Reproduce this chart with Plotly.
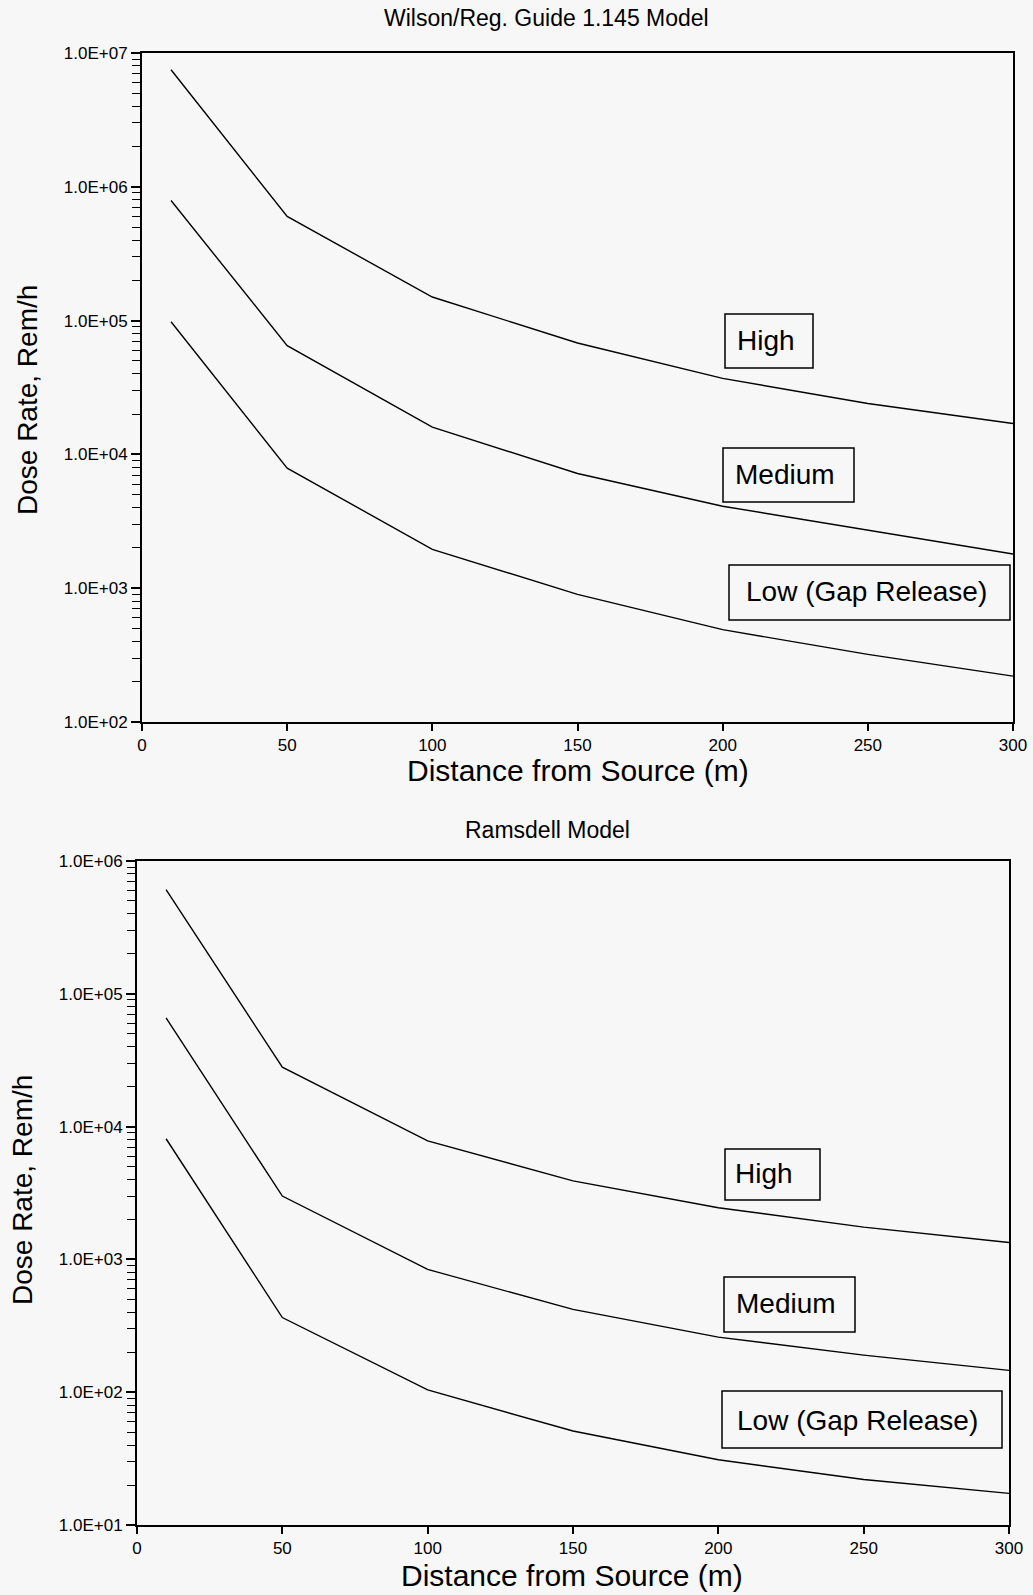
import plotly.graph_objects as go

# ---------------- data ----------------
distance = [10, 50, 100, 150, 200, 250, 300]

wilson_high = [7.5e6, 6.0e5, 1.5e5, 6.8e4, 3.7e4, 2.4e4, 1.7e4]
wilson_medium = [7.9e5, 6.5e4, 1.6e4, 7.2e3, 4.1e3, 2.7e3, 1.8e3]
wilson_low = [9.8e4, 7.9e3, 1.95e3, 9.0e2, 4.9e2, 3.2e2, 2.2e2]

ramsdell_high = [6.1e5, 2.8e4, 7.8e3, 3.9e3, 2.45e3, 1.75e3, 1.34e3]
ramsdell_medium = [6.6e4, 3.0e3, 8.4e2, 4.2e2, 2.6e2, 1.9e2, 1.46e2]
ramsdell_low = [8.1e3, 3.65e2, 1.04e2, 5.1e1, 3.1e1, 2.2e1, 1.73e1]

series_names = ["High", "Medium", "Low (Gap Release)"]

x_tickvals = [0, 50, 100, 150, 200, 250, 300]
x_ticktext = ["0", "50", "100", "150", "200", "250", "300"]

top_y_tickvals = [1e2, 1e3, 1e4, 1e5, 1e6, 1e7]
top_y_ticktext = ["1.0E+02", "1.0E+03", "1.0E+04", "1.0E+05", "1.0E+06", "1.0E+07"]
bot_y_tickvals = [1e1, 1e2, 1e3, 1e4, 1e5, 1e6]
bot_y_ticktext = ["1.0E+01", "1.0E+02", "1.0E+03", "1.0E+04", "1.0E+05", "1.0E+06"]

top_title = "Wilson/Reg. Guide 1.145 Model"
bot_title = "Ramsdell Model"
x_title = "Distance from Source (m)"
y_title = "Dose Rate, Rem/h"

# ---------------- layout helpers ----------------
W, H = 1033, 1595
BG = "#f7f7f7"
FONT = "Liberation Sans, Arial, Helvetica, sans-serif"


def px(x):
    return x / W


def py(y):
    return 1 - y / H


def minor_vals(lo, hi):
    vals = []
    for e in range(lo, hi):
        for k in range(2, 10):
            vals.append(k * 10 ** e)
    return vals


fig = go.Figure()

for ys, name in zip([wilson_high, wilson_medium, wilson_low], series_names):
    fig.add_trace(go.Scatter(x=distance, y=ys, mode="lines", name=name,
                             line=dict(color="black", width=1.4),
                             xaxis="x", yaxis="y", showlegend=False))
for ys, name in zip([ramsdell_high, ramsdell_medium, ramsdell_low], series_names):
    fig.add_trace(go.Scatter(x=distance, y=ys, mode="lines", name=name,
                             line=dict(color="black", width=1.4),
                             xaxis="x2", yaxis="y2", showlegend=False))

xaxis_common = dict(range=[0, 300], tickmode="array", tickvals=x_tickvals,
                    ticktext=x_ticktext, ticks="outside", ticklen=7,
                    tickwidth=1.5, tickcolor="black", showline=True,
                    linecolor="black", linewidth=2, mirror=True,
                    showgrid=False, zeroline=False, automargin=False,
                    tickfont=dict(family=FONT, size=17, color="black"))
yaxis_common = dict(type="log", tickmode="array", ticks="outside", ticklen=9,
                    tickwidth=1.5, tickcolor="black", showline=True,
                    linecolor="black", linewidth=2, mirror=True,
                    showgrid=False, zeroline=False, automargin=False,
                    tickfont=dict(family=FONT, size=17, color="black"))

fig.update_layout(
    width=W, height=H,
    margin=dict(l=0, r=0, t=0, b=0),
    paper_bgcolor=BG, plot_bgcolor=BG,
    showlegend=False,
    xaxis=dict(xaxis_common, domain=[px(142), px(1013)], anchor="y"),
    yaxis=dict(yaxis_common, domain=[py(722), py(53)], anchor="x",
               range=[2, 7], tickvals=top_y_tickvals, ticktext=top_y_ticktext,
               minor=dict(tickmode="array", tickvals=minor_vals(2, 7),
                          ticks="outside", ticklen=8, tickwidth=1.2,
                          tickcolor="black", showgrid=False)),
    xaxis2=dict(xaxis_common, domain=[px(137), px(1009)], anchor="y2"),
    yaxis2=dict(yaxis_common, domain=[py(1525), py(861)], anchor="x2",
                range=[1, 6], tickvals=bot_y_tickvals, ticktext=bot_y_ticktext,
                minor=dict(tickmode="array", tickvals=minor_vals(1, 6),
                           ticks="outside", ticklen=8, tickwidth=1.2,
                           tickcolor="black", showgrid=False)),
)

annotations = []
# titles
annotations.append(dict(text=top_title, x=px(546), y=py(18), xref="paper", yref="paper",
                        showarrow=False, xanchor="center", yanchor="middle",
                        font=dict(family=FONT, size=23, color="black")))
annotations.append(dict(text=bot_title, x=px(547), y=py(830), xref="paper", yref="paper",
                        showarrow=False, xanchor="center", yanchor="middle",
                        font=dict(family=FONT, size=23, color="black")))
# axis titles
for cx, cy in [(578, 770), (572, 1575)]:
    annotations.append(dict(text=x_title, x=px(cx), y=py(cy), xref="paper", yref="paper",
                            showarrow=False, xanchor="center", yanchor="middle",
                            font=dict(family=FONT, size=30, color="black")))
for cx, cy in [(28, 400), (22, 1190)]:
    annotations.append(dict(text=y_title, x=px(cx), y=py(cy), xref="paper", yref="paper",
                            showarrow=False, xanchor="center", yanchor="middle",
                            textangle=-90,
                            font=dict(family=FONT, size=28, color="black")))

# label boxes: (x0, y0, x1, y1, text_cx, text_cy) in pixels
label_boxes = [
    (725, 314, 813, 368, 766, 340),
    (723, 448, 854, 502, 785, 474),
    (729, 565, 1010, 620, 866, 591),
    (725, 1149, 820, 1200, 764, 1173),
    (724, 1277, 855, 1332, 786, 1303),
    (722, 1391, 1002, 1448, 857, 1420),
]
label_texts = series_names + series_names

shapes = []
for (x0, y0, x1, y1, tx, ty), txt in zip(label_boxes, label_texts):
    shapes.append(dict(type="rect", xref="paper", yref="paper",
                       x0=px(x0), x1=px(x1), y0=py(y1), y1=py(y0),
                       line=dict(color="black", width=1.5), fillcolor=BG))
    annotations.append(dict(text=txt, x=px(tx), y=py(ty), xref="paper", yref="paper",
                            showarrow=False, xanchor="center", yanchor="middle",
                            font=dict(family=FONT, size=28, color="black")))

fig.update_layout(annotations=annotations, shapes=shapes)

fig.write_html("out.html")
